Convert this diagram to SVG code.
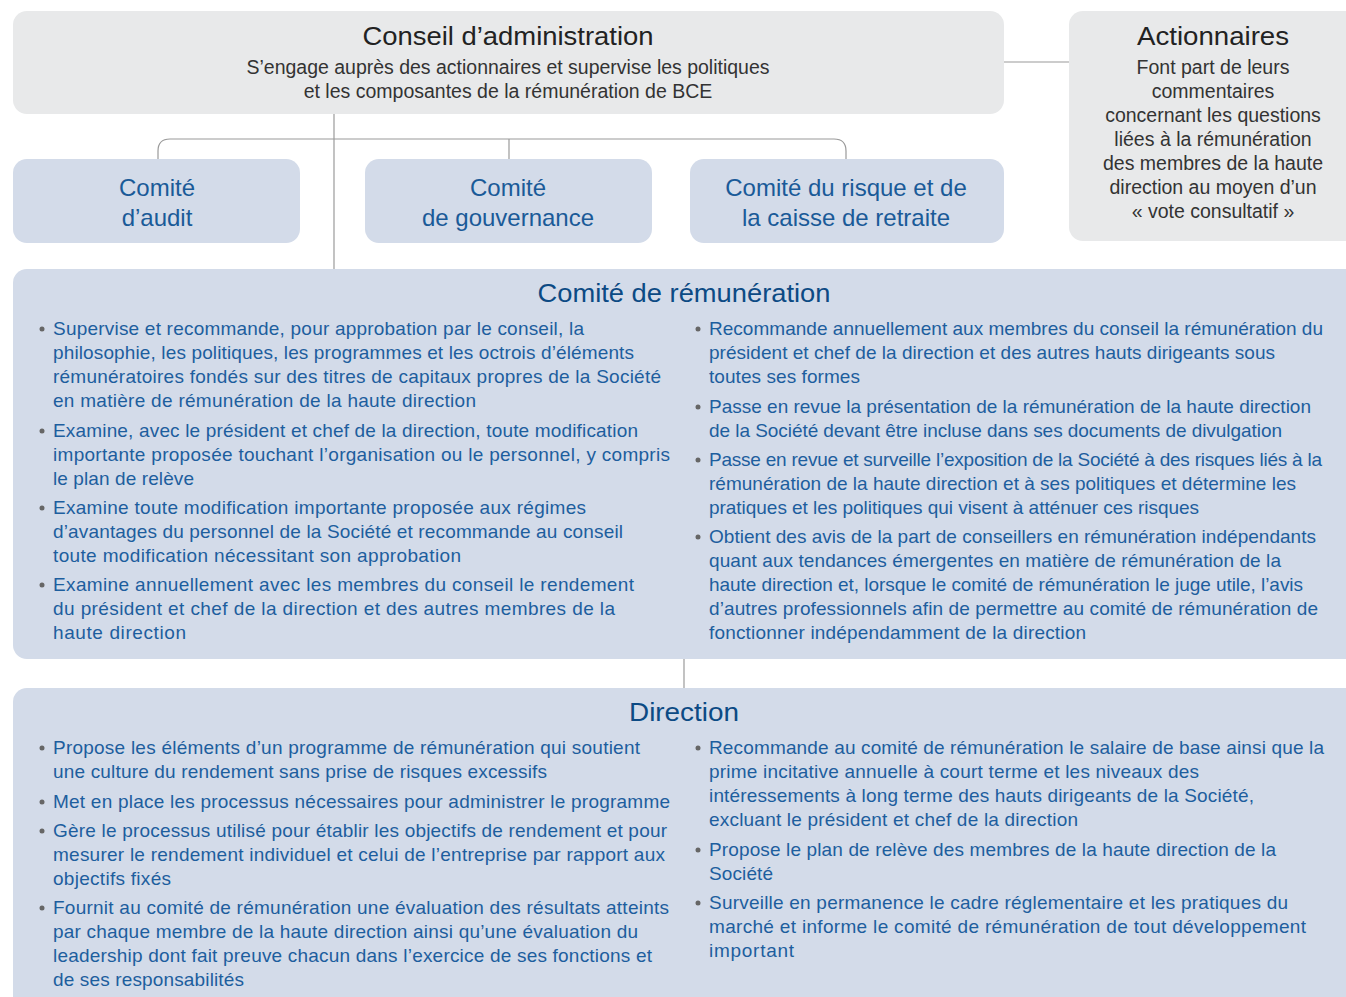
<svg xmlns="http://www.w3.org/2000/svg" width="1346" height="997" viewBox="0 0 1346 997">
<style>
.grey{fill:#e8e9ea}
.blue{fill:#d3dbe9}
.h1{font-family:"Liberation Sans",Arial,sans-serif;font-size:26px;fill:#222;text-anchor:middle}
.sub{font-family:"Liberation Sans",Arial,sans-serif;font-size:19.5px;fill:#333;text-anchor:middle}
.ch{font-family:"Liberation Sans",Arial,sans-serif;font-size:24px;fill:#1a5a98;text-anchor:middle}
.h2{font-family:"Liberation Sans",Arial,sans-serif;font-size:26px;fill:#0c4a84;text-anchor:middle}
.b{font-family:"Liberation Sans",Arial,sans-serif;font-size:19px;fill:#1d5e9e}
.dot{fill:#666}
.ln{fill:none;stroke:#9a9a9a;stroke-width:1.2}
</style>
<rect width="1346" height="997" fill="#fff"/>
<g id="connectors">
<line class="ln" x1="1004" y1="62" x2="1069" y2="62"/>
<line class="ln" x1="334" y1="114" x2="334" y2="269"/>
<path class="ln" d="M158 159 V151 Q158 139 170 139 H834 Q846 139 846 151 V159"/>
<line class="ln" x1="509" y1="139" x2="509" y2="159"/>
<line class="ln" x1="684" y1="659" x2="684" y2="688"/>
</g>
<g id="conseil">
<rect class="grey" x="13" y="11" width="991" height="103" rx="14"/>
<text class="h1" x="508" y="45" textLength="291" lengthAdjust="spacingAndGlyphs">Conseil d’administration</text>
<text class="sub" x="508" y="74" textLength="523" lengthAdjust="spacingAndGlyphs">S’engage auprès des actionnaires et supervise les politiques</text>
<text class="sub" x="508" y="98">et les composantes de la rémunération de BCE</text>
</g>
<g id="actionnaires">
<rect class="grey" x="1069" y="11" width="290" height="230" rx="14"/>
<text class="h1" x="1213" y="45" textLength="152" lengthAdjust="spacingAndGlyphs">Actionnaires</text>
<text class="sub" x="1213" y="74">Font part de leurs</text>
<text class="sub" x="1213" y="98">commentaires</text>
<text class="sub" x="1213" y="122">concernant les questions</text>
<text class="sub" x="1213" y="146">liées à la rémunération</text>
<text class="sub" x="1213" y="170">des membres de la haute</text>
<text class="sub" x="1213" y="194">direction au moyen d’un</text>
<text class="sub" x="1213" y="218">« vote consultatif »</text>
</g>
<g id="audit">
<rect class="blue" x="13" y="159" width="287" height="84" rx="14"/>
<text class="ch" x="157" y="196">Comité</text>
<text class="ch" x="157" y="226">d’audit</text>
</g>
<g id="gouvernance">
<rect class="blue" x="365" y="159" width="287" height="84" rx="14"/>
<text class="ch" x="508" y="196">Comité</text>
<text class="ch" x="508" y="226">de gouvernance</text>
</g>
<g id="risque">
<rect class="blue" x="690" y="159" width="314" height="84" rx="14"/>
<text class="ch" x="846" y="196">Comité du risque et de</text>
<text class="ch" x="846" y="226">la caisse de retraite</text>
</g>
<g id="remuneration">
<rect class="blue" x="13" y="269" width="1346" height="390" rx="14"/>
<text class="h2" x="684" y="302" textLength="293" lengthAdjust="spacingAndGlyphs">Comité de rémunération</text>
<circle class="dot" cx="42" cy="329" r="2.5"/>
<circle class="dot" cx="42" cy="431" r="2.5"/>
<circle class="dot" cx="42" cy="508" r="2.5"/>
<circle class="dot" cx="42" cy="585" r="2.5"/>
<text class="b" x="53" y="335" textLength="531">Supervise et recommande, pour approbation par le conseil, la</text>
<text class="b" x="53" y="359" textLength="581">philosophie, les politiques, les programmes et les octrois d’éléments</text>
<text class="b" x="53" y="383" textLength="608">rémunératoires fondés sur des titres de capitaux propres de la Société</text>
<text class="b" x="53" y="407" textLength="423">en matière de rémunération de la haute direction</text>
<text class="b" x="53" y="437" textLength="585">Examine, avec le président et chef de la direction, toute modification</text>
<text class="b" x="53" y="461" textLength="617">importante proposée touchant l’organisation ou le personnel, y compris</text>
<text class="b" x="53" y="485" textLength="141">le plan de relève</text>
<text class="b" x="53" y="514" textLength="533">Examine toute modification importante proposée aux régimes</text>
<text class="b" x="53" y="538" textLength="570">d’avantages du personnel de la Société et recommande au conseil</text>
<text class="b" x="53" y="562" textLength="408">toute modification nécessitant son approbation</text>
<text class="b" x="53" y="591" textLength="581">Examine annuellement avec les membres du conseil le rendement</text>
<text class="b" x="53" y="615" textLength="562">du président et chef de la direction et des autres membres de la</text>
<text class="b" x="53" y="639" textLength="133">haute direction</text>
<circle class="dot" cx="698" cy="329" r="2.5"/>
<circle class="dot" cx="698" cy="407" r="2.5"/>
<circle class="dot" cx="698" cy="460" r="2.5"/>
<circle class="dot" cx="698" cy="537" r="2.5"/>
<text class="b" x="709" y="335" textLength="614">Recommande annuellement aux membres du conseil la rémunération du</text>
<text class="b" x="709" y="359" textLength="566">président et chef de la direction et des autres hauts dirigeants sous</text>
<text class="b" x="709" y="383" textLength="151">toutes ses formes</text>
<text class="b" x="709" y="413" textLength="602">Passe en revue la présentation de la rémunération de la haute direction</text>
<text class="b" x="709" y="437" textLength="573">de la Société devant être incluse dans ses documents de divulgation</text>
<text class="b" x="709" y="466" textLength="613">Passe en revue et surveille l’exposition de la Société à des risques liés à la</text>
<text class="b" x="709" y="490" textLength="587">rémunération de la haute direction et à ses politiques et détermine les</text>
<text class="b" x="709" y="514" textLength="490">pratiques et les politiques qui visent à atténuer ces risques</text>
<text class="b" x="709" y="543" textLength="607">Obtient des avis de la part de conseillers en rémunération indépendants</text>
<text class="b" x="709" y="567" textLength="572">quant aux tendances émergentes en matière de rémunération de la</text>
<text class="b" x="709" y="591" textLength="594">haute direction et, lorsque le comité de rémunération le juge utile, l’avis</text>
<text class="b" x="709" y="615" textLength="609">d’autres professionnels afin de permettre au comité de rémunération de</text>
<text class="b" x="709" y="639" textLength="377">fonctionner indépendamment de la direction</text>
</g>
<g id="direction">
<rect class="blue" x="13" y="688" width="1346" height="330" rx="14"/>
<text class="h2" x="684" y="721" textLength="110" lengthAdjust="spacingAndGlyphs">Direction</text>
<circle class="dot" cx="42" cy="748" r="2.5"/>
<circle class="dot" cx="42" cy="802" r="2.5"/>
<circle class="dot" cx="42" cy="831" r="2.5"/>
<circle class="dot" cx="42" cy="908" r="2.5"/>
<text class="b" x="53" y="754" textLength="587">Propose les éléments d’un programme de rémunération qui soutient</text>
<text class="b" x="53" y="778" textLength="494">une culture du rendement sans prise de risques excessifs</text>
<text class="b" x="53" y="808" textLength="617">Met en place les processus nécessaires pour administrer le programme</text>
<text class="b" x="53" y="837" textLength="614">Gère le processus utilisé pour établir les objectifs de rendement et pour</text>
<text class="b" x="53" y="861" textLength="612">mesurer le rendement individuel et celui de l’entreprise par rapport aux</text>
<text class="b" x="53" y="885" textLength="118">objectifs fixés</text>
<text class="b" x="53" y="914" textLength="616">Fournit au comité de rémunération une évaluation des résultats atteints</text>
<text class="b" x="53" y="938" textLength="585">par chaque membre de la haute direction ainsi qu’une évaluation du</text>
<text class="b" x="53" y="962" textLength="599">leadership dont fait preuve chacun dans l’exercice de ses fonctions et</text>
<text class="b" x="53" y="986" textLength="191">de ses responsabilités</text>
<circle class="dot" cx="698" cy="748" r="2.5"/>
<circle class="dot" cx="698" cy="850" r="2.5"/>
<circle class="dot" cx="698" cy="903" r="2.5"/>
<text class="b" x="709" y="754" textLength="615">Recommande au comité de rémunération le salaire de base ainsi que la</text>
<text class="b" x="709" y="778" textLength="490">prime incitative annuelle à court terme et les niveaux des</text>
<text class="b" x="709" y="802" textLength="545">intéressements à long terme des hauts dirigeants de la Société,</text>
<text class="b" x="709" y="826" textLength="369">excluant le président et chef de la direction</text>
<text class="b" x="709" y="856" textLength="567">Propose le plan de relève des membres de la haute direction de la</text>
<text class="b" x="709" y="880" textLength="64">Société</text>
<text class="b" x="709" y="909" textLength="579">Surveille en permanence le cadre réglementaire et les pratiques du</text>
<text class="b" x="709" y="933" textLength="597">marché et informe le comité de rémunération de tout développement</text>
<text class="b" x="709" y="957" textLength="85">important</text>
</g>
</svg>
